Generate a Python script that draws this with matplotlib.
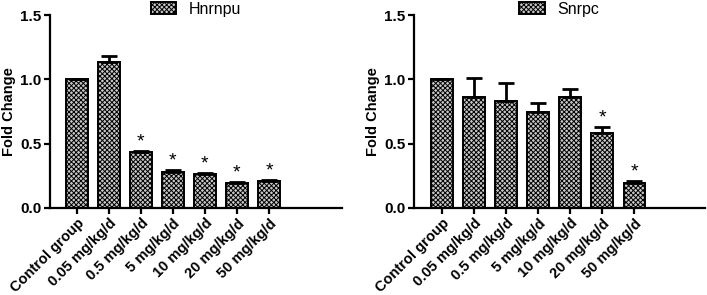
import numpy as np
import matplotlib.pyplot as plt

plt.rcParams['font.family'] = ['Liberation Sans', 'DejaVu Sans']
plt.rcParams['hatch.linewidth'] = 0.7
plt.rcParams['hatch.color'] = '#222222'

# data
groups = ['Control group', '0.05 mg/kg/d', '0.5 mg/kg/d', '5 mg/kg/d',
          '10 mg/kg/d', '20 mg/kg/d', '50 mg/kg/d']

hnrnpu_mean = [1.0, 1.138, 0.432, 0.279, 0.267, 0.192, 0.207]
hnrnpu_err = [0.0, 0.046, 0.013, 0.013, 0.004, 0.010, 0.010]
hnrnpu_sig = [False, False, True, True, True, True, True]

snrpc_mean = [1.0, 0.866, 0.835, 0.750, 0.866, 0.582, 0.194]
snrpc_err = [0.0, 0.142, 0.140, 0.065, 0.060, 0.049, 0.013]
snrpc_sig = [False, False, False, False, False, True, True]

fig = plt.figure(figsize=(7.07, 2.95), dpi=100)
ax1 = fig.add_axes([0.0707, 0.295, 0.413, 0.654])
ax2 = fig.add_axes([0.5856, 0.295, 0.4116, 0.654])


def barpanel(ax, mean, err, sig, name, xlim):
    x = np.arange(len(groups))
    ax.bar(x, mean, width=0.68, facecolor='#c8c8c8', edgecolor='black',
           linewidth=1.4, hatch='xxxxxxx', label=name, zorder=2)
    ax.errorbar(x, mean, yerr=[np.zeros(len(err)), err], fmt='none',
                ecolor='black', elinewidth=2, capsize=6, capthick=2, zorder=3)
    for xi, m, e, s in zip(x, mean, err, sig):
        if s:
            ax.text(xi, m + e + 0.07, '*', ha='center', va='center',
                    fontsize=14, zorder=4)
    ax.set_xlim(xlim)
    ax.set_ylim(0, 1.5)
    ax.set_yticks([0.0, 0.5, 1.0, 1.5])
    ax.set_yticklabels(['0.0', '0.5', '1.0', '1.5'], fontsize=11, fontweight='bold')
    ax.set_xticks(x)
    ax.set_xticklabels(groups, rotation=45, ha='right', va='top',
                       rotation_mode='anchor', fontsize=10.5, fontweight='bold')
    ax.set_ylabel('Fold Change', fontsize=10.5, fontweight='bold', labelpad=3)
    ax.spines['top'].set_visible(False)
    ax.spines['right'].set_visible(False)
    ax.spines['left'].set_linewidth(1.6)
    ax.spines['bottom'].set_linewidth(1.6)
    ax.tick_params(axis='both', width=1.6, length=4, direction='out', pad=2)
    ax.legend(loc='center', bbox_to_anchor=(0.5, 1.03), frameon=False,
              fontsize=11.5, handlelength=1.6, handleheight=0.8,
              handletextpad=0.8, borderaxespad=0)


barpanel(ax1, hnrnpu_mean, hnrnpu_err, hnrnpu_sig, 'Hnrnpu', (-0.84, 8.28))
barpanel(ax2, snrpc_mean, snrpc_err, snrpc_sig, 'Snrpc', (-0.87, 8.2))

fig.savefig('out.png', dpi=100)
